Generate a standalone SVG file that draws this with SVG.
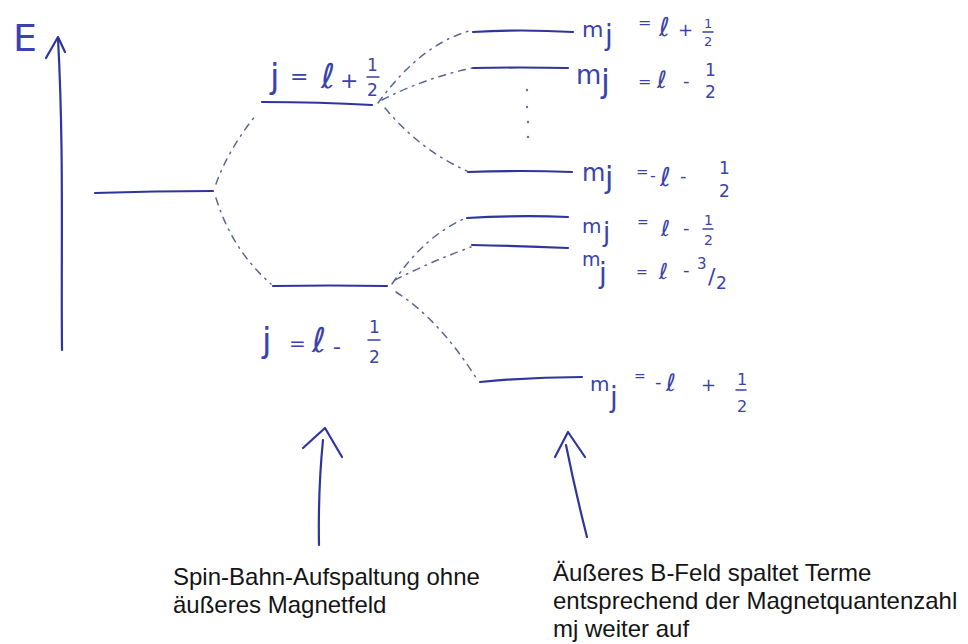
<svg xmlns="http://www.w3.org/2000/svg" width="968" height="644" viewBox="0 0 968 644">
  <style>
    .ink { fill: none; stroke: #2f359b; stroke-width: 2.2; stroke-linecap: round; stroke-linejoin: round; }
    .thin { fill: none; stroke: #3a42aa; stroke-width: 1.5; stroke-linecap: round; }
    .dash { fill: none; stroke: #5d6690; stroke-width: 1.5; stroke-linecap: round; stroke-dasharray: 7 6 1.5 6; }
    .hand { font-family: "DejaVu Sans", "Noto Sans", sans-serif; fill: #3a43ab; }
    .caption { font-family: "Liberation Sans", Arial, sans-serif; font-size: 24px; fill: #141414; }
    .dot { fill: #6a7090; }
  </style>
  <rect width="968" height="644" fill="#ffffff"/>

  <!-- energy axis -->
  <g id="axis">
    <path class="ink" d="M62,350 C61,250 64,150 58,38"/>
    <path class="ink" d="M46,58 L58,37 L65,52"/>
    <text class="hand" x="13" y="51" font-size="38">E</text>
  </g>

  <!-- dashed splitting connectors -->
  <g id="connectors">
    <path class="dash" d="M216,184 Q228,150 256,115"/>
    <path class="dash" d="M216,198 Q232,250 271,284"/>
    <path class="dash" d="M378,103 Q420,45 469,31"/>
    <path class="dash" d="M382,100 Q425,78 472,68"/>
    <path class="dash" d="M385,108 Q420,150 467,171"/>
    <path class="dash" d="M392,284 Q425,235 466,218"/>
    <path class="dash" d="M395,280 Q430,262 471,247"/>
    <path class="dash" d="M396,292 Q440,320 478,381"/>
    <g id="ellipsis">
      <circle class="dot" cx="527" cy="90" r="1.2"/>
      <circle class="dot" cx="527" cy="107" r="1.2"/>
      <circle class="dot" cx="528" cy="122" r="1.2"/>
      <circle class="dot" cx="528" cy="137" r="1.2"/>
    </g>
  </g>

  <!-- unsplit level -->
  <g id="level-l">
    <path class="ink" d="M95,193 Q155,191 213,191"/>
  </g>

  <!-- spin-orbit levels -->
  <g id="level-j-plus">
    <path class="ink" d="M262,102 Q320,102 372,105"/>
    <text class="hand" x="270" y="88" font-size="34">j</text>
    <text class="hand" x="290" y="84" font-size="22">=</text>
    <text class="hand" x="321" y="88" font-size="34">ℓ</text>
    <text class="hand" x="340" y="88" font-size="22">+</text>
    <text class="hand" x="367" y="71" font-size="17">1</text>
    <line class="thin" x1="367" y1="77" x2="379" y2="77"/>
    <text class="hand" x="367" y="96" font-size="17">2</text>
  </g>

  <g id="level-j-minus">
    <path class="ink" d="M273,286 Q330,285 387,286"/>
    <text class="hand" x="262" y="352" font-size="34">j</text>
    <text class="hand" x="289" y="350" font-size="20">=</text>
    <text class="hand" x="312" y="352" font-size="34">ℓ</text>
    <text class="hand" x="333" y="354" font-size="22">-</text>
    <text class="hand" x="369" y="333" font-size="17">1</text>
    <line class="thin" x1="368" y1="340" x2="380" y2="340"/>
    <text class="hand" x="369" y="363" font-size="17">2</text>
  </g>

  <!-- Zeeman sublevels -->
  <g id="mj-1">
    <path class="ink" d="M473,32 Q520,29 573,32"/>
    <text class="hand" x="582" y="37" font-size="22">m<tspan x="605" y="45" font-size="28">j</tspan></text>
    <text class="hand" x="638" y="28" font-size="16">=</text>
    <text class="hand" x="659" y="36" font-size="26">ℓ</text>
    <text class="hand" x="678" y="36" font-size="18">+</text>
    <text class="hand" x="704" y="28" font-size="13">1</text>
    <line class="thin" x1="703" y1="32" x2="713" y2="32"/>
    <text class="hand" x="704" y="46" font-size="13">2</text>
  </g>

  <g id="mj-2">
    <path class="ink" d="M473,68 Q520,67 568,68"/>
    <text class="hand" x="576" y="84" font-size="26">m<tspan x="601" y="92" font-size="32">j</tspan></text>
    <text class="hand" x="638" y="87" font-size="16">=</text>
    <text class="hand" x="657" y="88" font-size="24">ℓ</text>
    <text class="hand" x="683" y="87" font-size="18">-</text>
    <text class="hand" x="705" y="76" font-size="17">1</text>
    <text class="hand" x="705" y="98" font-size="17">2</text>
  </g>

  <g id="mj-3">
    <path class="ink" d="M468,172 Q520,170 572,172"/>
    <text class="hand" x="582" y="181" font-size="24">m<tspan x="605" y="188" font-size="30">j</tspan></text>
    <text class="hand" x="636" y="177" font-size="15">=</text>
    <text class="hand" x="650" y="181" font-size="16">-</text>
    <text class="hand" x="660" y="186" font-size="26">ℓ</text>
    <text class="hand" x="680" y="182" font-size="18">-</text>
    <text class="hand" x="719" y="174" font-size="17">1</text>
    <text class="hand" x="719" y="197" font-size="17">2</text>
  </g>

  <g id="mj-4">
    <path class="ink" d="M467,218 Q520,215 568,217"/>
    <text class="hand" x="582" y="233" font-size="20">m<tspan x="603" y="241" font-size="26">j</tspan></text>
    <text class="hand" x="637" y="227" font-size="14">=</text>
    <text class="hand" x="661" y="236" font-size="22">ℓ</text>
    <text class="hand" x="683" y="234" font-size="18">-</text>
    <text class="hand" x="704" y="225" font-size="14">1</text>
    <line class="thin" x1="703" y1="229" x2="713" y2="229"/>
    <text class="hand" x="704" y="245" font-size="14">2</text>
  </g>

  <g id="mj-5">
    <path class="ink" d="M472,245 Q520,246 568,248"/>
    <text class="hand" x="582" y="266" font-size="19">m<tspan x="599" y="283" font-size="28">j</tspan></text>
    <text class="hand" x="636" y="277" font-size="14">=</text>
    <text class="hand" x="659" y="279" font-size="22">ℓ</text>
    <text class="hand" x="683" y="276" font-size="18">-</text>
    <text class="hand" x="697" y="269" font-size="15">3<tspan x="708" y="284" font-size="22">/</tspan><tspan x="716" y="289" font-size="17">2</tspan></text>
  </g>

  <g id="mj-6">
    <path class="ink" d="M480,382 Q530,377 582,377"/>
    <text class="hand" x="590" y="391" font-size="20">m<tspan x="610" y="407" font-size="28">j</tspan></text>
    <text class="hand" x="634" y="381" font-size="14">=</text>
    <text class="hand" x="655" y="388" font-size="18">-</text>
    <text class="hand" x="666" y="391" font-size="24">ℓ</text>
    <text class="hand" x="701" y="391" font-size="18">+</text>
    <text class="hand" x="737" y="385" font-size="16">1</text>
    <line class="thin" x1="736" y1="390" x2="746" y2="390"/>
    <text class="hand" x="737" y="412" font-size="16">2</text>
  </g>

  <!-- pointer arrows with captions -->
  <g id="note-spin-orbit">
    <path class="ink" d="M319,545 Q318,490 323,440"/>
    <path class="ink" d="M303,448 L325,428 L342,457"/>
    <text class="caption" x="173" y="585">Spin-Bahn-Aufspaltung ohne</text>
    <text class="caption" x="173" y="613">äußeres Magnetfeld</text>
  </g>

  <g id="note-zeeman">
    <path class="ink" d="M587,537 Q575,490 566,445"/>
    <path class="ink" d="M555,457 L568,432 L585,457"/>
    <text class="caption" x="553" y="581">Äußeres B-Feld spaltet Terme</text>
    <text class="caption" x="553" y="609">entsprechend der Magnetquantenzahl</text>
    <text class="caption" x="553" y="637">mj weiter auf</text>
  </g>
</svg>
